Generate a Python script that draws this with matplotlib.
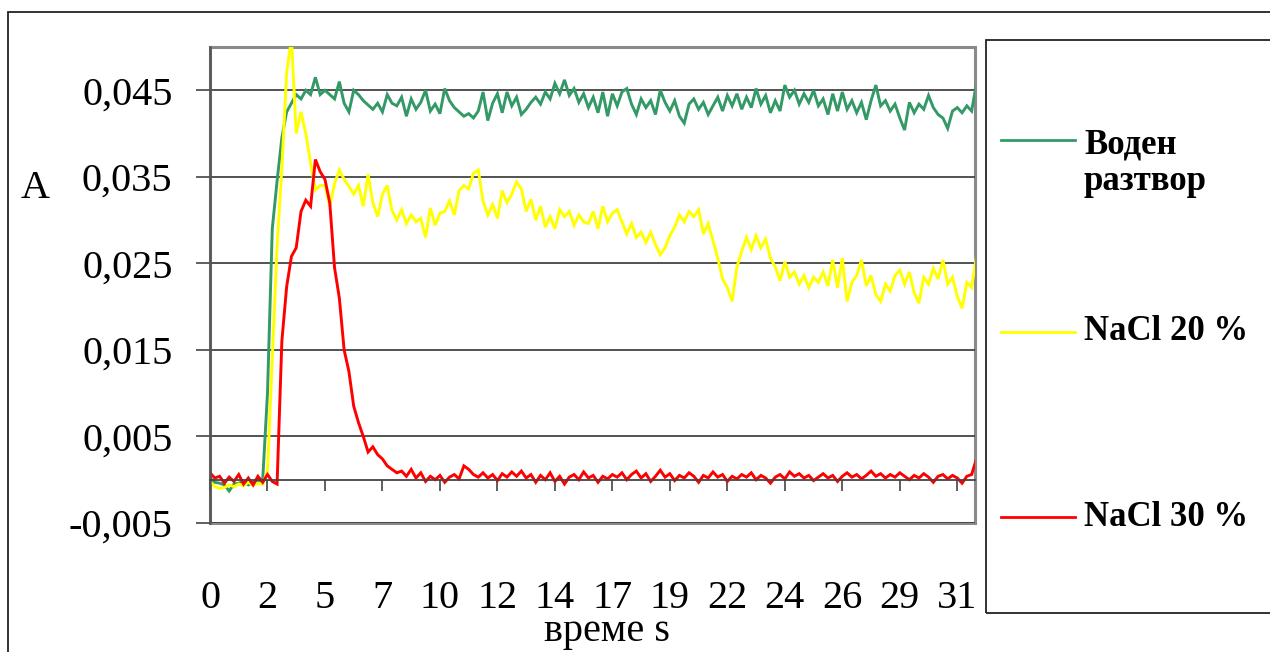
import numpy as np
import matplotlib
matplotlib.use("Agg")
import matplotlib.pyplot as plt
from matplotlib.patches import Rectangle
from matplotlib.lines import Line2D

plt.rcParams['font.family'] = ['Liberation Serif', 'DejaVu Serif']

# absorbance readings, one sample every 0.2 s (values in units of 0.001)
voden = [
    0.2, -0.3, -0.4, -0.6, -1.3, -0.5, -0.4, -0.2, -0.6, -0.3,
    -0.2, 0.0, 10.0, 29.0, 34.5, 39.5, 42.5, 43.5, 44.5, 44.0,
    45.0, 44.5, 46.5, 44.5, 45.0, 44.5, 44.0, 46.0, 43.5, 42.5,
    45.0, 44.5, 43.8, 43.3, 42.8, 43.5, 42.5, 44.5, 43.5, 43.2,
    44.2, 42.0, 44.0, 42.8, 43.6, 45.0, 42.6, 43.4, 42.3, 45.2,
    43.8, 43.0, 42.5, 42.0, 42.3, 41.8, 42.6, 44.8, 41.5, 43.5,
    44.6, 42.4, 44.8, 43.2, 44.2, 42.2, 42.8, 43.6, 44.2, 43.4,
    44.8, 44.0, 45.8, 44.6, 46.2, 44.4, 45.2, 43.6, 44.6, 43.0,
    44.2, 42.4, 44.8, 42.0, 44.6, 43.2, 44.8, 45.2, 43.4, 42.2,
    44.0, 43.0, 43.8, 42.2, 45.0, 43.6, 42.6, 43.8, 42.0, 41.2,
    43.4, 44.0, 42.8, 43.6, 42.2, 43.2, 44.2, 42.6, 44.4, 43.2,
    44.6, 42.8, 44.2, 43.0, 45.2, 43.4, 44.4, 42.4, 43.8, 42.6,
    45.6, 44.2, 45.0, 43.4, 44.6, 43.6, 45.0, 43.2, 44.0, 42.2,
    44.6, 42.6, 44.8, 42.8, 43.8, 42.4, 43.6, 41.6, 43.8, 45.6,
    43.2, 43.8, 42.6, 43.4, 41.8, 40.4, 43.6, 42.4, 43.4, 42.8,
    44.4, 43.0, 42.2, 41.8, 40.6, 42.6, 43.0, 42.4, 43.2, 42.6,
    45.8,
]

nacl20 = [
    -0.2, -0.8, -1.0, -0.9, -0.6, -0.8, -0.5, -0.7, -0.3, -0.6,
    -0.4, -0.5, 1.0, 14.0, 27.0, 36.0, 47.0, 51.0, 40.0, 42.5,
    40.0, 36.6, 33.5, 34.0, 34.0, 31.6, 34.2, 35.8, 34.7, 33.9,
    33.0, 34.0, 31.6, 35.3, 32.0, 30.4, 33.0, 34.0, 31.1, 30.0,
    31.2, 29.6, 30.6, 29.8, 30.2, 28.0, 31.4, 29.4, 30.8, 31.0,
    32.2, 30.6, 33.4, 34.0, 33.6, 35.4, 35.8, 32.2, 30.6, 31.8,
    30.2, 33.4, 32.0, 33.0, 34.4, 33.6, 31.0, 32.4, 30.0, 31.6,
    29.2, 30.4, 29.0, 31.2, 30.4, 31.0, 29.4, 30.6, 29.8, 29.6,
    31.0, 29.0, 31.6, 29.8, 30.8, 31.2, 29.8, 28.4, 29.6, 28.0,
    28.6, 27.4, 28.6, 27.2, 26.0, 26.8, 28.2, 29.2, 30.6, 29.8,
    31.0, 30.4, 31.2, 28.4, 29.6, 27.6, 25.6, 23.2, 22.2, 20.6,
    24.6, 26.4, 28.0, 26.6, 28.2, 26.8, 27.8, 25.6, 24.6, 23.0,
    25.2, 23.4, 24.0, 22.6, 23.6, 22.2, 23.4, 22.8, 24.0, 22.4,
    25.4, 22.2, 25.6, 20.6, 22.8, 23.6, 25.4, 22.4, 23.6, 21.4,
    20.6, 22.6, 21.8, 23.6, 24.2, 22.6, 24.0, 21.6, 20.4, 23.4,
    22.6, 24.4, 23.2, 25.4, 22.6, 23.4, 21.2, 19.8, 22.8, 22.2,
    25.8,
]

nacl30 = [
    0.8, 0.2, 0.4, -0.4, 0.3, -0.2, 0.6, -0.5, 0.2, -0.6,
    0.4, -0.3, 0.6, -0.2, -0.5, 16.0, 22.3, 25.8, 26.8, 31.0,
    32.3, 31.6, 37.0, 35.6, 34.7, 32.0, 24.5, 21.0, 15.0, 12.5,
    8.5, 6.6, 5.0, 3.2, 3.8, 2.9, 2.4, 1.6, 1.2, 0.8,
    1.0, 0.4, 1.2, 0.2, 0.8, -0.2, 0.4, 0.0, 0.5, -0.3,
    0.3, 0.6, 0.1, 1.6, 1.2, 0.6, 0.3, 0.8, 0.2, 0.6,
    -0.1, 0.7, 0.3, 0.9, 0.4, 1.0, 0.2, 0.6, -0.3, 0.5,
    0.0, 0.8, -0.2, 0.4, -0.5, 0.3, 0.6, 0.0, 0.9, 0.2,
    0.5, -0.3, 0.4, 0.1, 0.6, 0.3, 0.8, 0.0, 0.6, 1.0,
    0.2, 0.7, -0.2, 0.4, 1.1, 0.3, 0.7, -0.1, 0.5, 0.2,
    0.8, 0.4, -0.3, 0.5, 0.2, 0.9, 0.3, 0.6, -0.2, 0.4,
    0.1, 0.6, 0.3, 0.8, 0.0, 0.5, 0.2, -0.4, 0.3, 0.6,
    0.1, 0.9, 0.4, 0.7, 0.2, 0.5, -0.1, 0.3, 0.7, 0.2,
    0.5, -0.2, 0.4, 0.8, 0.3, 0.6, 0.1, 0.5, 1.0, 0.4,
    0.7, 0.2, 0.6, 0.3, 0.8, 0.4, 0.0, 0.5, 0.2, 0.7,
    0.3, -0.3, 0.4, 0.6, 0.1, 0.5, 0.2, -0.4, 0.4, 0.6,
    2.4,
]

# category axis like Excel: a label every 12 samples (2.4 s)
x_labels = ['0', '2', '5', '7', '10', '12', '14', '17', '19', '22', '24', '26', '29', '31']
label_every = 12
y_ticks = [-0.005, 0.005, 0.015, 0.025, 0.035, 0.045]
y_labels = ['-0,005', '0,005', '0,015', '0,025', '0,035', '0,045']

series = [
    ('Воден\nразтвор', voden, '#339966'),
    ('NaCl 20 %', nacl20, '#FFFF00'),
    ('NaCl 30 %', nacl30, '#FF0000'),
]

W, H = 1270, 652
fig = plt.figure(figsize=(W / 100, H / 100), dpi=100)

# outer chart frame (runs off the right and bottom edge)
fig.add_artist(Rectangle((8 / W, -0.1), 1.1, 1 - 12 / H + 0.1, transform=fig.transFigure,
                         fill=False, edgecolor='#222222', lw=1.3))

ax = fig.add_axes([210 / W, 1 - 523 / H, 765 / W, 476 / H])

lines = []
for name, vals, col in series:
    ln, = ax.plot(np.array(vals) / 1000, color=col, lw=2.1, solid_joinstyle='miter')
    lines.append(ln)

ax.set_xlim(0, 159.7)
ax.set_ylim(-0.005, 0.05)
ax.set_yticks(y_ticks)
ax.set_yticklabels(y_labels)
ax.set_xticks(np.arange(len(x_labels)) * label_every)
ax.set_xticklabels(x_labels)

ax.yaxis.grid(True, color='#444444', lw=1.3)
ax.set_axisbelow(True)

for s in ['top', 'right']:
    ax.spines[s].set_visible(False)
ax.spines['left'].set_color('#555555')
ax.spines['left'].set_linewidth(1.8)
ax.spines['bottom'].set_position(('data', 0))
ax.spines['bottom'].set_color('#444444')
ax.spines['bottom'].set_linewidth(1.3)
ax.add_patch(Rectangle((0, 0), 1, 1, transform=ax.transAxes, fill=False,
                       edgecolor='#8a8a8a', lw=2.2, clip_on=False, zorder=0.5))

ax.tick_params(axis='y', direction='out', length=10, width=1.2, color='#444444',
               pad=17, labelsize=29)
ax.tick_params(axis='x', direction='out', length=8, width=1.2, color='#444444',
               pad=64, labelsize=29)

fig.text(35 / W, 1 - 188 / H, 'A', fontsize=29, ha='center', va='center')
fig.text(607 / W, 1 - 632 / H, 'време s', fontsize=29, ha='center', va='center')

# legend box, drawn by hand to keep Excel's spacing
fig.add_artist(Rectangle((986 / W, 1 - 613 / H), 0.3, 573 / H, transform=fig.transFigure,
                         fill=False, edgecolor='#222222', lw=1.3))
legend_y = [140, 332, 517]
text_y = [163, 332, 518]
for ln, (name, vals, col), ly, ty in zip(lines, series, legend_y, text_y):
    fig.add_artist(Line2D([1001 / W, 1075 / W], [1 - ly / H, 1 - ly / H],
                          transform=fig.transFigure, color=ln.get_color(), lw=2.0))
    fig.text(1084 / W, 1 - ty / H, name, fontsize=25, fontweight='bold',
             ha='left', va='center', linespacing=1.15)

fig.savefig('out.png', dpi=100)
